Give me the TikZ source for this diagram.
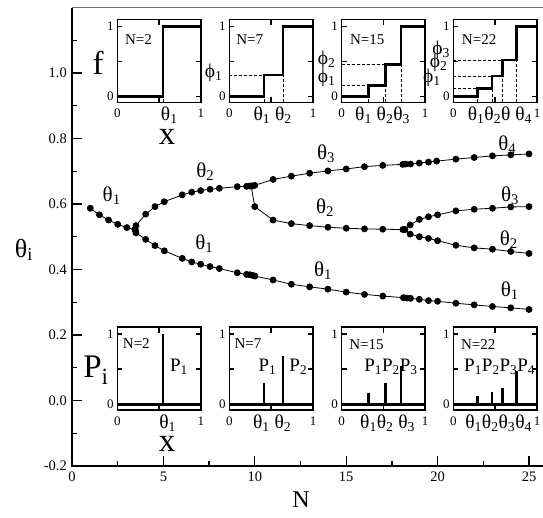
\documentclass[tikz,border=0pt]{standalone}
\usepackage{fontspec}
\setmainfont{Liberation Serif}
\usetikzlibrary{positioning}

\newcommand{\fs}[1]{\fontsize{#1}{#1}\selectfont}
\newcommand{\sub}[1]{\textsubscript{#1}}

% frame, ticks and tick labels of one small panel
\newcommand{\insetframe}[1]{%
  \draw [frame] (0,-0.08) rectangle (1,1.1);
  \foreach \v in {0,0.5,1}
    \draw [frame] (0,\v) -- ++(0.06,0) (1,\v) -- ++(-0.06,0);
  \draw [frame] (0.5,-0.08) -- ++(0,0.08) (0.5,1.1) -- ++(0,-0.08);
  \node (#1y0) at (-0.03,0) [ticklab, anchor=east] {0};
  \node (#1y1) at (-0.03,1) [ticklab, anchor=east] {1};
  \node (#1x0) at (0,-0.3) [ticklab, anchor=base] {0};
  \node (#1x1) at (1,-0.3) [ticklab, anchor=base] {1};
}

\begin{document}
\begin{tikzpicture} [x=1pt, y=-1pt,
    frame/.style={line width=1.5pt},
    axis/.style={line width=1.3pt},
    curve/.style={line width=0.8pt, mark=*, mark size=3pt},
    stepline/.style={line width=2.6pt},
    bar/.style={line width=2.6pt},
    guide/.style={line width=0.6pt, dash pattern=on 3pt off 2pt},
    ticklab/.style={font=\fs{13}, inner sep=1pt},
    numlab/.style={font=\fs{14.5}, inner sep=1pt},
    glab/.style={font=\fs{21}, inner sep=0pt},
    slab/.style={font=\fs{19.5}, inner sep=0pt},
    plab/.style={font=\fs{19}, inner sep=0pt, anchor=base west},
    tag/.style={font=\fs{15}, inner sep=0pt, anchor=base west},
    big/.style={font=\fs{33}, inner sep=0pt}]

    \useasboundingbox (0,0) rectangle (543,517);

    % main axes and data
    \begin{scope}[shift={(72pt,-400.5pt)}, x=18.28pt, y=327.5pt]
        \draw [axis] (0,1.2) -- (0,-0.2) -- (25.8,-0.2);
        \draw [axis, black!55] (0,1.2) -- (25.8,1.2);
        \foreach \n in {0,5,...,25} {
            \draw [axis] (\n,-0.2) -- ++(0,0.03);
            \node (nt\n) at (\n,-0.2) [numlab, anchor=north, yshift=-5pt] {\n};
        }
        \foreach \n in {2.5,7.5,...,22.5}
            \draw [axis] (\n,-0.2) -- ++(0,0.015);
        \foreach \v [count=\k] in {-0.2,0.0,0.2,0.4,0.6,0.8,1.0} {
            \draw [axis] (0,\v) -- ++(0.55,0);
            \node (vt\k) at (0,\v) [numlab, anchor=east, xshift=-4pt] {\v};
        }
        \foreach \v in {-0.1,0.1,0.3,0.5,0.7,0.9,1.1}
            \draw [axis] (0,\v) -- ++(0.27,0);

        \draw [curve] plot coordinates {(1,0.587) (1.5,0.567) (2,0.551) (2.5,0.538) (3,0.528) (3.45,0.522)};
        \draw [curve] plot coordinates {(3.45,0.522) (3.5,0.534) (4.03,0.569) (4.54,0.592) (5.05,0.607)
            (6.03,0.628) (6.55,0.636) (7.04,0.641) (7.55,0.645) (8.06,0.648) (9.04,0.653) (9.55,0.654)
            (9.73,0.655) (9.88,0.655) (10.0,0.657) (11,0.675) (12,0.685) (13,0.694) (14,0.701) (15,0.707)
            (16,0.714) (17,0.718) (18.09,0.721) (18.25,0.722) (18.52,0.722) (19,0.725) (19.5,0.728)
            (19.95,0.731) (21,0.737) (22,0.742) (23,0.747) (24,0.750) (25,0.753)};
        \draw [curve] plot coordinates {(3.45,0.522) (3.5,0.512) (4.03,0.492) (4.54,0.473) (5.05,0.457)
            (6.03,0.434) (6.55,0.423) (7.04,0.416) (7.55,0.409) (8.06,0.403) (9.04,0.390) (9.55,0.385)
            (9.73,0.384) (9.88,0.382) (10.0,0.380) (11,0.368) (12,0.355) (13,0.347) (14,0.340) (15,0.331)
            (16,0.324) (17,0.319) (18.13,0.314) (18.31,0.313) (18.52,0.312) (19,0.309) (19.5,0.305)
            (20,0.303) (21,0.297) (22,0.292) (23,0.287) (24,0.283) (25,0.278)};
        \draw [curve] plot coordinates {(9.8,0.655) (10.0,0.592) (11,0.551) (12,0.540) (13,0.534) (14,0.529)
            (15,0.526) (16,0.524) (17,0.523) (18.1,0.522) (18.2,0.522)};
        \draw [curve] plot coordinates {(18.2,0.522) (18.5,0.536) (19,0.553) (19.5,0.561) (20,0.567)
            (21,0.579) (22,0.584) (23,0.587) (24,0.591) (25,0.592)};
        \draw [curve] plot coordinates {(18.2,0.522) (18.5,0.508) (19,0.500) (19.5,0.495) (20,0.488)
            (21,0.474) (22,0.466) (23,0.462) (24,0.455) (25,0.449)};
    \end{scope}

    % branch labels
    \node (b1) at (111.7,196) [glab] {θ\sub{1}};
    \node (b2) at (205.3,171.7) [glab] {θ\sub{2}};
    \node (b3) at (204.3,244) [glab] {θ\sub{1}};
    \node (b4) at (326,154) [glab] {θ\sub{3}};
    \node (b5) at (507.3,145) [glab] {θ\sub{4}};
    \node (b6) at (325,208) [glab] {θ\sub{2}};
    \node (b7) at (510,196) [glab] {θ\sub{3}};
    \node (b8) at (508.7,239.3) [glab] {θ\sub{2}};
    \node (b9) at (323,270.7) [glab] {θ\sub{1}};
    \node (b10) at (509.7,290.7) [glab] {θ\sub{1}};

    \node (ylab) at (24,250) [font=\fs{26}, inner sep=0pt] {θ\sub{i}};
    \node (xlab) at (301,500) [font=\fs{24}, inner sep=0pt] {N};

    % top panels: f(x)
    \node (flab) at (98,63) [big] {f};
    \node (xtop) at (167,136.7) [big] {x};

    \begin{scope}[shift={(117.3pt,-96.7pt)}, x=83.6pt, y=70.3pt]
        \insetframe{fa}
        \draw [guide] (0.548,-0.08) -- (0.548,0);
        \draw [stepline] (0,0) -| (0.548,1) -- (1,1);
        \node (fan) at (0.09,0.745) [tag] {N=2};
        \node (fat) at (0.52,-0.34) [slab, anchor=base west] {θ\sub{1}};
    \end{scope}

    \begin{scope}[shift={(229.4pt,-96.7pt)}, x=83.6pt, y=70.3pt]
        \insetframe{fb}
        \draw [guide] (0,0.31) -- (0.643,0.31);
        \draw [guide] (0.413,-0.08) -- (0.413,0) (0.643,-0.08) -- (0.643,0.31);
        \draw [stepline] (0,0) -| (0.413,0.31) -| (0.643,1) -- (1,1);
        \node (fbn) at (0.08,0.745) [tag] {N=7};
        \node (fbp1) at (-0.08,0.27) [slab, anchor=base east] {ϕ\sub{1}};
        \node (fbt) at (0.286,-0.34) [slab, anchor=base west] {θ\sub{1} θ\sub{2}};
    \end{scope}

    \begin{scope}[shift={(341.6pt,-96.7pt)}, x=83.6pt, y=70.3pt]
        \insetframe{fc}
        \draw [guide] (0,0.157) -- (0.528,0.157) (0,0.462) -- (0.712,0.462);
        \draw [guide] (0.324,-0.08) -- (0.324,0) (0.528,-0.08) -- (0.528,0.157)
            (0.712,-0.08) -- (0.712,0.462);
        \draw [stepline] (0,0) -| (0.324,0.157) -| (0.528,0.462) -| (0.712,1) -- (1,1);
        \node (fcn) at (0.1,0.745) [tag] {N=15};
        \node (fcp2) at (-0.07,0.46) [slab, anchor=base east] {ϕ\sub{2}};
        \node (fcp1) at (-0.07,0.2) [slab, anchor=base east] {ϕ\sub{1}};
        \node (fct) at (0.16,-0.34) [slab, anchor=base west] {θ\sub{1} θ\sub{2}θ\sub{3}};
    \end{scope}

    \begin{scope}[shift={(453.4pt,-96.7pt)}, x=83.6pt, y=70.3pt]
        \insetframe{fd}
        \draw [guide] (0,0.12) -- (0.46,0.12) (0,0.296) -- (0.588,0.296) (0,0.524) -- (0.752,0.524);
        \draw [guide] (0.288,-0.08) -- (0.288,0) (0.46,-0.08) -- (0.46,0.12)
            (0.588,-0.08) -- (0.588,0.296) (0.752,-0.08) -- (0.752,0.524);
        \draw [stepline] (0,0) -| (0.288,0.12) -| (0.46,0.296) -| (0.588,0.524) -| (0.752,1) -- (1,1);
        \node (fdn) at (0.1,0.745) [tag] {N=22};
        \node (fdp3) at (-0.04,0.6) [slab, anchor=base east] {ϕ\sub{3}};
        \node (fdp2) at (-0.07,0.42) [slab, anchor=base east] {ϕ\sub{2}};
        \node (fdp1) at (-0.15,0.2) [slab, anchor=base east] {ϕ\sub{1}};
        \node (fdt) at (0.17,-0.34) [slab, anchor=base west] {θ\sub{1}θ\sub{2}θ θ\sub{4}};
    \end{scope}

    % bottom panels: P_i
    \node (plab) at (96,370) [big] {P\sub{i}};
    \node (xbot) at (167,444.3) [big] {x};

    \begin{scope}[shift={(117.3pt,-404.3pt)}, x=83.6pt, y=70.3pt]
        \insetframe{pa}
        \draw [stepline] (0,0) -- (1,0);
        \draw [bar] (0.548,0) -- (0.548,1);
        \node (pan) at (0.065,0.8) [tag] {N=2};
        \node (pap) at (0.63,0.46) [plab] {P\sub{1}};
        \node (pat) at (0.5,-0.34) [slab, anchor=base west] {θ\sub{1}};
    \end{scope}

    \begin{scope}[shift={(229.4pt,-404.3pt)}, x=83.6pt, y=70.3pt]
        \insetframe{pb}
        \draw [stepline] (0,0) -- (1,0);
        \draw [bar] (0.413,0) -- (0.413,0.31) (0.643,0) -- (0.643,0.69);
        \node (pbn) at (0.06,0.8) [tag] {N=7};
        \node (pbp1) at (0.346,0.46) [plab] {P\sub{1}};
        \node (pbp2) at (0.716,0.46) [plab] {P\sub{2}};
        \node (pbt) at (0.28,-0.34) [slab, anchor=base west] {θ\sub{1} θ\sub{2}};
    \end{scope}

    \begin{scope}[shift={(341.6pt,-404.3pt)}, x=83.6pt, y=70.3pt]
        \insetframe{pc}
        \draw [stepline] (0,0) -- (1,0);
        \draw [bar] (0.324,0) -- (0.324,0.157) (0.528,0) -- (0.528,0.305) (0.712,0) -- (0.712,0.538);
        \node (pcn) at (0.09,0.78) [tag] {N=15};
        \node (pcp) at (0.27,0.46) [plab] {P\sub{1}P\sub{2}P\sub{3}};
        \node (pct) at (0.22,-0.34) [slab, anchor=base west] {θ\sub{1}θ\sub{2} θ\sub{3}};
    \end{scope}

    \begin{scope}[shift={(453.4pt,-404.3pt)}, x=83.6pt, y=70.3pt]
        \insetframe{pd}
        \draw [stepline] (0,0) -- (1,0);
        \draw [bar] (0.288,0) -- (0.288,0.12) (0.46,0) -- (0.46,0.176)
            (0.588,0) -- (0.588,0.228) (0.752,0) -- (0.752,0.476);
        \node (pdn) at (0.09,0.78) [tag] {N=22};
        \node (pdp) at (0.127,0.46) [plab] {P\sub{1}P\sub{2}P\sub{3}P\sub{4}};
        \node (pdt) at (0.14,-0.34) [slab, anchor=base west] {θ\sub{1}θ\sub{2}θ\sub{3}θ\sub{4}};
    \end{scope}

\end{tikzpicture}
\end{document}
